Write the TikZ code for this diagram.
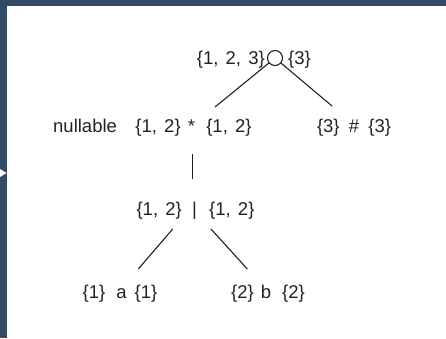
\documentclass[tikz,border=0pt]{standalone}
\usepackage{fontspec}
\setmainfont{Liberation Sans}[WordSpace={1.4}]
\definecolor{frame}{RGB}{52,75,101}
\definecolor{ink}{RGB}{34,34,34}
\begin{document}
\begin{tikzpicture}[x=1pt,y=-1pt,
  lbl/.style={inner sep=0pt,text=ink,font=\fontsize{18.5}{22}\selectfont},
  edge/.style={draw=ink,line width=1.1pt}]
\useasboundingbox (0,0) rectangle (446,338);
\fill[frame] (0,0) rectangle (446,338);
\fill[white] (7,6) rectangle (446,338);
\fill[white] (0,169) -- (6.5,173) -- (0,177) -- cycle;
% top row
\node[draw=ink,line width=1.1pt,circle,minimum size=15pt,inner sep=0pt] (root) at (275,58) {};
\node[lbl,anchor=base east] (rootL) at (265,64) {\{1, 2, 3\}};
\node[lbl,anchor=base west] (rootR) at (288,64) {\{3\}};
% second row
\node[lbl,anchor=base west] (null) at (53,132) {nullable};
\node[lbl,anchor=base] (star) at (193.5,132) {\{1, 2\} *\hspace{4pt} \{1, 2\}};
\node[lbl,anchor=base] (hash) at (354,132) {\{3\}\hspace{2pt} \# \hspace{2pt}\{3\}};
% third row
\node[lbl,anchor=base] (alt) at (195.5,215) {\{1, 2\} \,|\,\hspace{2pt} \{1, 2\}};
% fourth row
\node[lbl,anchor=base] (a) at (120,298) {\{1\}\hspace{11pt}a\hspace{8pt}\{1\}};
\node[lbl,anchor=base] (b) at (268,298) {\{2\}\hspace{7pt}b\hspace{11pt}\{2\}};
% connector ends
\coordinate (e1) at (215,107);
\coordinate (e2) at (332,106);
\coordinate (v1) at (192.7,154);
\coordinate (v2) at (192.7,179);
\coordinate (d1s) at (172.7,229);
\coordinate (d1e) at (138.3,269);
\coordinate (d2s) at (211,229);
\coordinate (d2e) at (247.3,269);
\draw[edge] (root) -- (e1);
\draw[edge] (root) -- (e2);
\draw[edge] (v1) -- (v2);
\draw[edge] (d1s) -- (d1e);
\draw[edge] (d2s) -- (d2e);
\end{tikzpicture}
\end{document}
